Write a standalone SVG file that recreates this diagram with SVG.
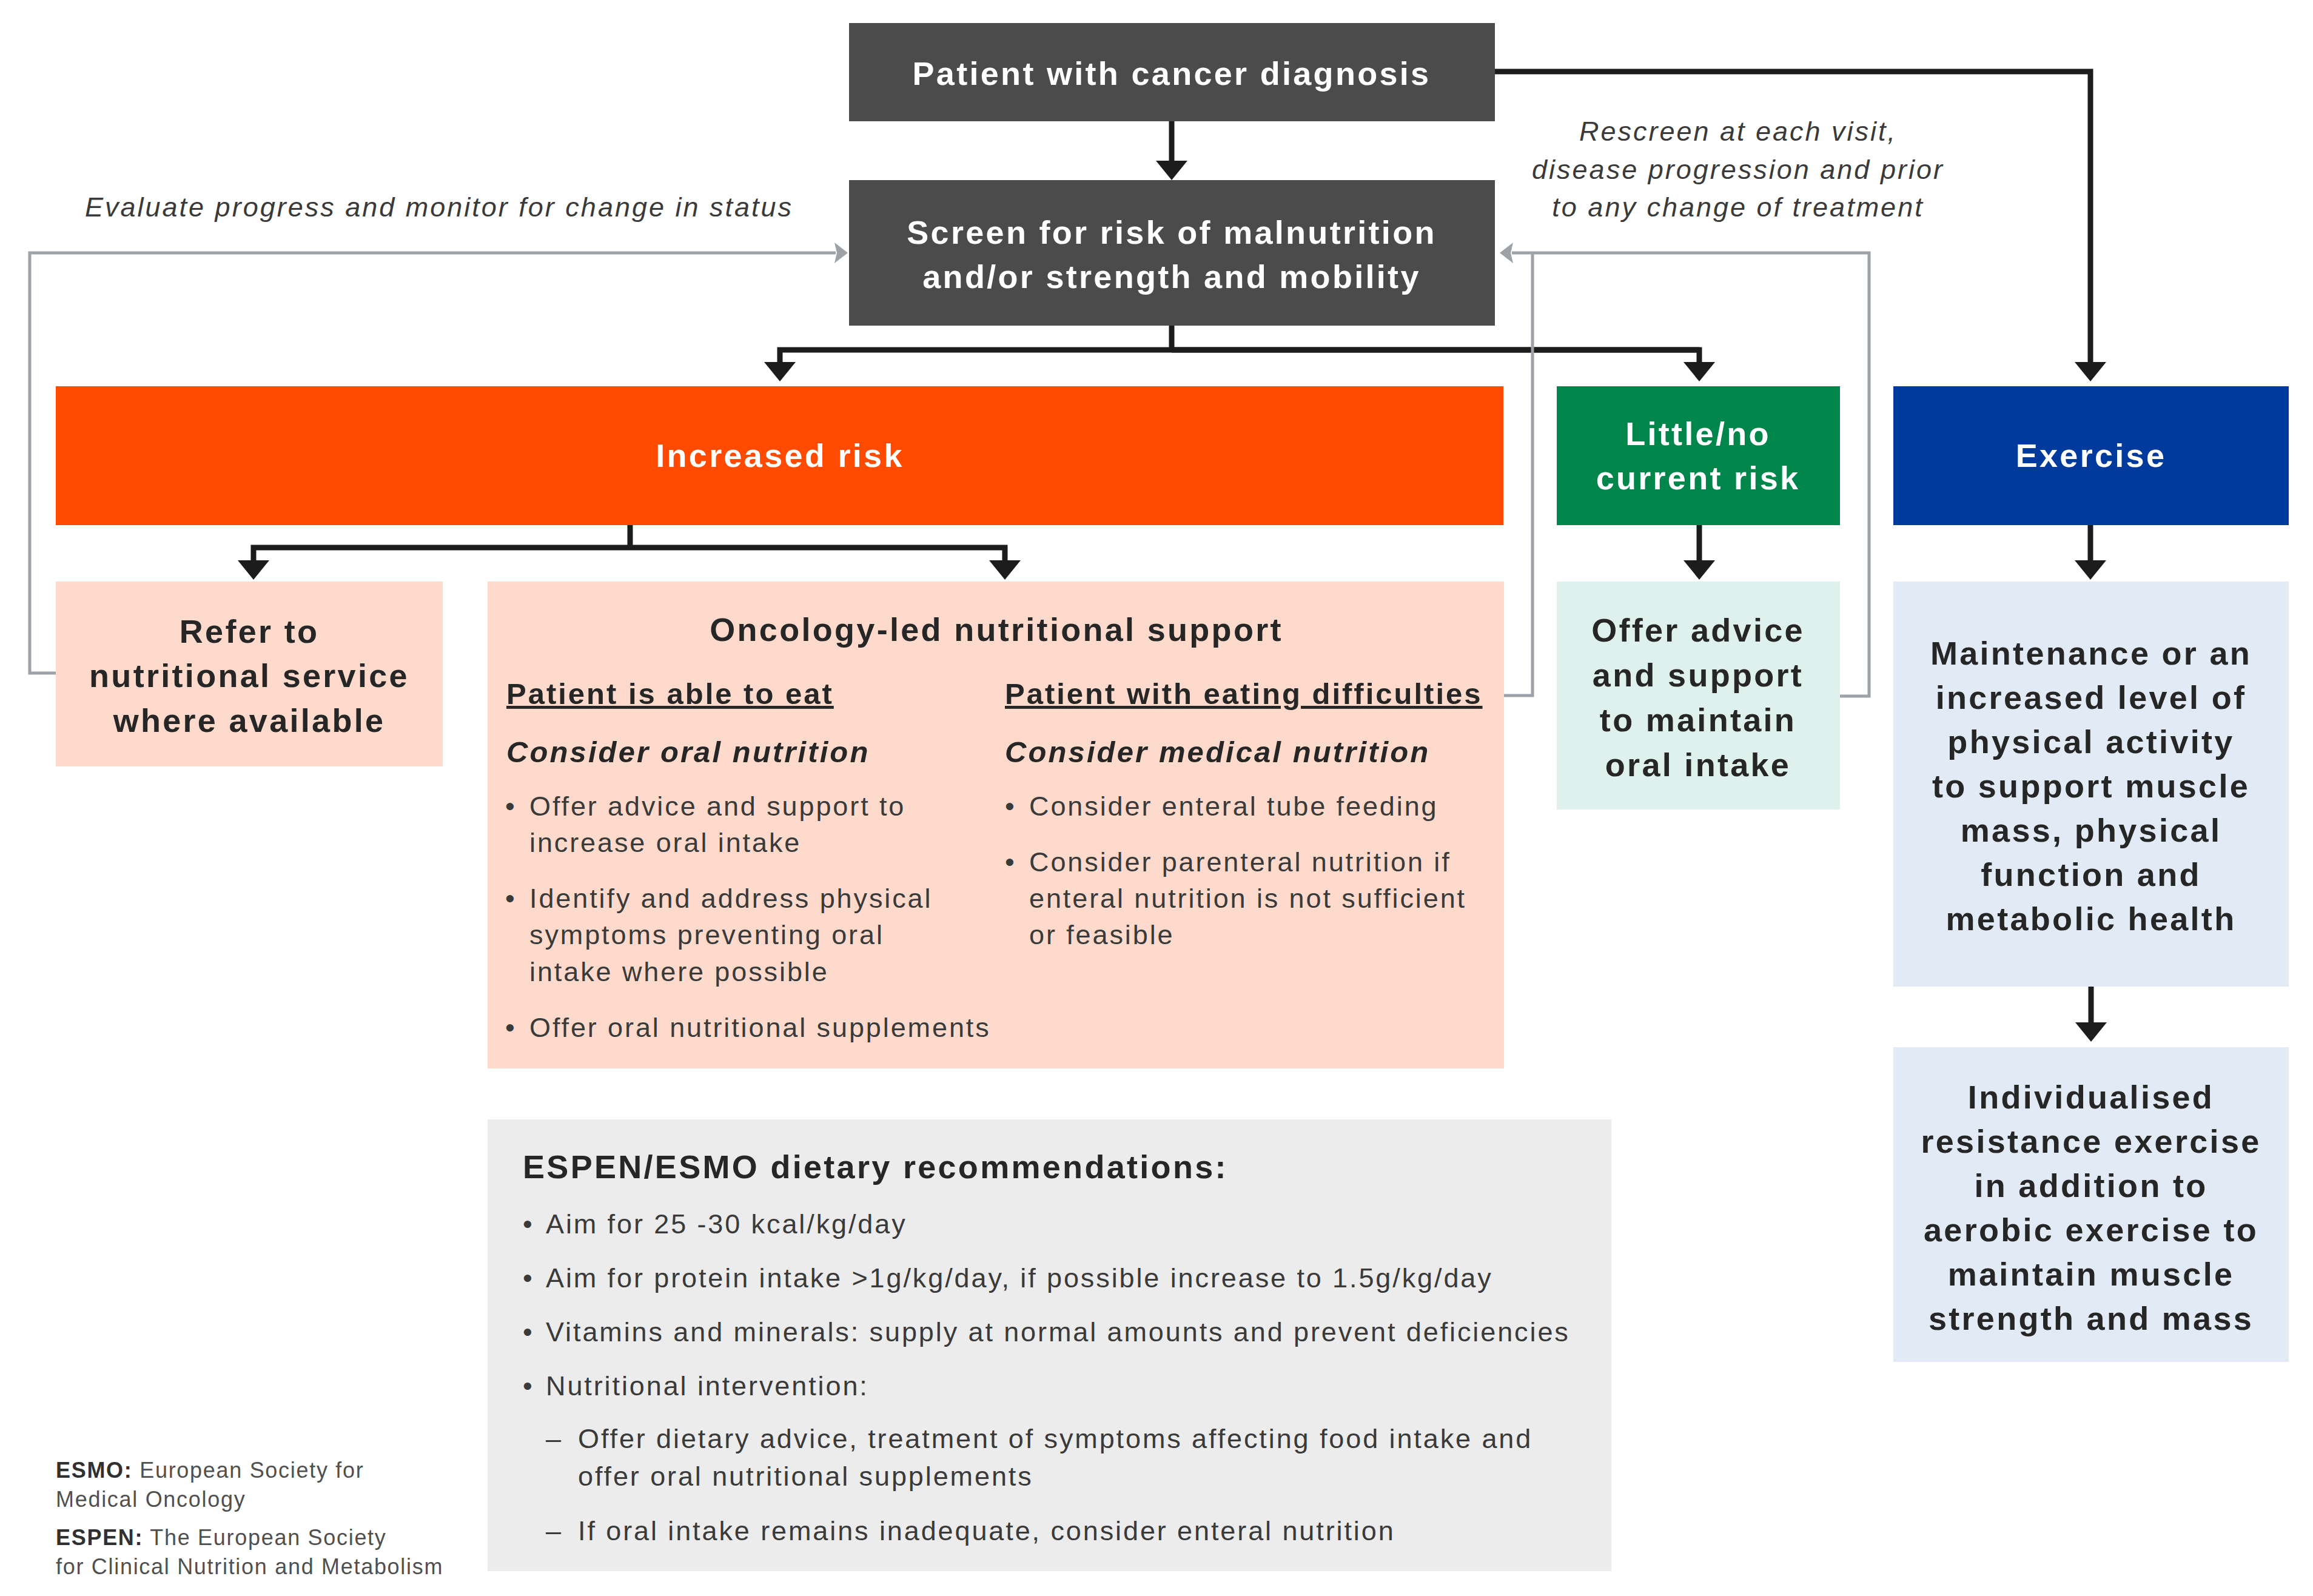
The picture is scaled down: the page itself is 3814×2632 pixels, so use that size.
<svg xmlns="http://www.w3.org/2000/svg" width="3814" height="2632" viewBox="0 0 3814 2632">
<defs>
<style>
.b{font-family:"Liberation Sans",Arial,sans-serif;font-weight:bold;font-size:54px;letter-spacing:3.3px;text-anchor:middle}
.st{text-anchor:start}
.w{fill:#ffffff}
.d{fill:#262626}
.r{font-family:"Liberation Sans",Arial,sans-serif;font-size:45px;letter-spacing:2.9px;fill:#3a3a3a}
.it{font-family:"Liberation Sans",Arial,sans-serif;font-style:italic;font-size:45px;letter-spacing:3px;fill:#3a3a3a}
.h{font-family:"Liberation Sans",Arial,sans-serif;font-weight:bold;font-size:49px;letter-spacing:3px;fill:#262626}
.hi{font-family:"Liberation Sans",Arial,sans-serif;font-weight:bold;font-style:italic;font-size:49px;letter-spacing:3.1px;fill:#262626}
.fn{font-family:"Liberation Sans",Arial,sans-serif;font-size:36px;letter-spacing:1.7px;fill:#505050}
.fnb{font-weight:bold;fill:#303030}
.blk{fill:none;stroke:#1c1c1c;stroke-width:9}
.gry{fill:none;stroke:#9ca2a7;stroke-width:5}
</style>
<marker id="ab" viewBox="0 0 32 52" refX="4" refY="26" markerWidth="32" markerHeight="52" markerUnits="userSpaceOnUse" orient="auto">
<path d="M0,0 L32,26 L0,52 z" fill="#1c1c1c"/>
</marker>
<marker id="ag" viewBox="0 0 22 34" refX="2" refY="17" markerWidth="22" markerHeight="34" markerUnits="userSpaceOnUse" orient="auto">
<path d="M0,0 L22,17 L0,34 L4,17 z" fill="#9ca2a7"/>
</marker>
</defs>
<rect width="3814" height="2632" fill="#ffffff"/>

<g id="connectors">
<path class="blk" d="M1932,200 V269" marker-end="url(#ab)"/>
<path class="blk" d="M2465,118 H3447 V601" marker-end="url(#ab)"/>
<path class="blk" d="M1932,537 V577"/>
<path class="blk" d="M2802,577 H1286 V601" marker-end="url(#ab)"/>
<path class="blk" d="M1932,577 H2802 V601" marker-end="url(#ab)"/>
<path class="blk" d="M1039,866 V903"/>
<path class="blk" d="M1039,903 H418 V928" marker-end="url(#ab)"/>
<path class="blk" d="M1039,903 H1657 V928" marker-end="url(#ab)"/>
<path class="blk" d="M2802,866 V928" marker-end="url(#ab)"/>
<path class="blk" d="M3447,866 V928" marker-end="url(#ab)"/>
<path class="blk" d="M3448,1627 V1690" marker-end="url(#ab)"/>
<path class="gry" d="M92,1110 H49 V417 H1378" marker-end="url(#ag)"/>
<path class="gry" d="M3034,1148 H3082 V417 H2493" marker-end="url(#ag)"/>
<path class="gry" d="M2480,1147 H2527 V417"/>
</g>

<g id="note-evaluate">
<text class="it" x="140" y="357">Evaluate progress and monitor for change in status</text>
</g>
<g id="note-rescreen">
<text class="it" x="2866" y="232" text-anchor="middle">Rescreen at each visit,</text>
<text class="it" x="2866" y="295" text-anchor="middle">disease progression and prior</text>
<text class="it" x="2866" y="357" text-anchor="middle">to any change of treatment</text>
</g>

<g id="patient">
<rect x="1400" y="38" width="1065" height="162" fill="#4b4b4b"/>
<text class="b w" x="1932" y="140">Patient with cancer diagnosis</text>
</g>

<g id="screen">
<rect x="1400" y="297" width="1065" height="240" fill="#4b4b4b"/>
<text class="b w" x="1932" y="402">Screen for risk of malnutrition</text>
<text class="b w" x="1932" y="475">and/or strength and mobility</text>
</g>

<g id="increased-risk">
<rect x="92" y="637" width="2387" height="229" fill="#ff4a00"/>
<text class="b w" x="1286" y="770">Increased risk</text>
</g>

<g id="little-risk">
<rect x="2567" y="637" width="467" height="229" fill="#00854a"/>
<text class="b w" x="2800" y="734">Little/no</text>
<text class="b w" x="2800" y="807">current risk</text>
</g>

<g id="exercise">
<rect x="3122" y="637" width="652" height="229" fill="#003a9c"/>
<text class="b w" x="3448" y="770">Exercise</text>
</g>

<g id="refer">
<rect x="92" y="959" width="638" height="305" fill="#fddacb"/>
<text class="b d" x="411" y="1060">Refer to</text>
<text class="b d" x="411" y="1133">nutritional service</text>
<text class="b d" x="411" y="1207">where available</text>
</g>

<g id="oncology">
<rect x="804" y="959" width="1676" height="803" fill="#fddacb"/>
<text class="b d" x="1643" y="1057">Oncology-led nutritional support</text>
<text class="h" x="835" y="1161" text-decoration="underline">Patient is able to eat</text>
<text class="hi" x="835" y="1257">Consider oral nutrition</text>
<text class="r" x="833" y="1345">•</text>
<text class="r" x="873" y="1345">Offer advice and support to</text>
<text class="r" x="873" y="1405">increase oral intake</text>
<text class="r" x="833" y="1497">•</text>
<text class="r" x="873" y="1497">Identify and address physical</text>
<text class="r" x="873" y="1557">symptoms preventing oral</text>
<text class="r" x="873" y="1618">intake where possible</text>
<text class="r" x="833" y="1710">•</text>
<text class="r" x="873" y="1710">Offer oral nutritional supplements</text>
<text class="h" x="1657" y="1161" text-decoration="underline">Patient with eating difficulties</text>
<text class="hi" x="1657" y="1257">Consider medical nutrition</text>
<text class="r" x="1657" y="1345">•</text>
<text class="r" x="1697" y="1345">Consider enteral tube feeding</text>
<text class="r" x="1657" y="1437">•</text>
<text class="r" x="1697" y="1437">Consider parenteral nutrition if</text>
<text class="r" x="1697" y="1497">enteral nutrition is not sufficient</text>
<text class="r" x="1697" y="1557">or feasible</text>
</g>

<g id="offer-advice">
<rect x="2567" y="959" width="467" height="376" fill="#dff1ec"/>
<text class="b d" x="2800" y="1058">Offer advice</text>
<text class="b d" x="2800" y="1132">and support</text>
<text class="b d" x="2800" y="1206">to maintain</text>
<text class="b d" x="2800" y="1280">oral intake</text>
</g>

<g id="maintenance">
<rect x="3122" y="959" width="652" height="668" fill="#e1eaf5"/>
<text class="b d" x="3448" y="1096">Maintenance or an</text>
<text class="b d" x="3448" y="1169">increased level of</text>
<text class="b d" x="3448" y="1242">physical activity</text>
<text class="b d" x="3448" y="1315">to support muscle</text>
<text class="b d" x="3448" y="1388">mass, physical</text>
<text class="b d" x="3448" y="1461">function and</text>
<text class="b d" x="3448" y="1534">metabolic health</text>
</g>

<g id="resistance">
<rect x="3122" y="1727" width="652" height="519" fill="#e1eaf5"/>
<text class="b d" x="3448" y="1828">Individualised</text>
<text class="b d" x="3448" y="1901">resistance exercise</text>
<text class="b d" x="3448" y="1974">in addition to</text>
<text class="b d" x="3448" y="2047">aerobic exercise to</text>
<text class="b d" x="3448" y="2120">maintain muscle</text>
<text class="b d" x="3448" y="2193">strength and mass</text>
</g>

<g id="espen-esmo">
<rect x="804" y="1846" width="1853" height="745" fill="#ececec"/>
<text class="b d st" x="862" y="1943">ESPEN/ESMO dietary recommendations:</text>
<text class="r" x="862" y="2034">•</text>
<text class="r" x="900" y="2034">Aim for 25 -30 kcal/kg/day</text>
<text class="r" x="862" y="2123">•</text>
<text class="r" x="900" y="2123">Aim for protein intake &gt;1g/kg/day, if possible increase to 1.5g/kg/day</text>
<text class="r" x="862" y="2212">•</text>
<text class="r" x="900" y="2212">Vitamins and minerals: supply at normal amounts and prevent deficiencies</text>
<text class="r" x="862" y="2301">•</text>
<text class="r" x="900" y="2301">Nutritional intervention:</text>
<text class="r" x="900" y="2388">–</text>
<text class="r" x="953" y="2388">Offer dietary advice, treatment of symptoms affecting food intake and</text>
<text class="r" x="953" y="2450">offer oral nutritional supplements</text>
<text class="r" x="900" y="2540">–</text>
<text class="r" x="953" y="2540">If oral intake remains inadequate, consider enteral nutrition</text>
</g>

<g id="footnote">
<text class="fn" x="92" y="2437"><tspan class="fnb">ESMO:</tspan> European Society for</text>
<text class="fn" x="92" y="2485">Medical Oncology</text>
<text class="fn" x="92" y="2548"><tspan class="fnb">ESPEN:</tspan> The European Society</text>
<text class="fn" x="92" y="2596">for Clinical Nutrition and Metabolism</text>
</g>
</svg>
